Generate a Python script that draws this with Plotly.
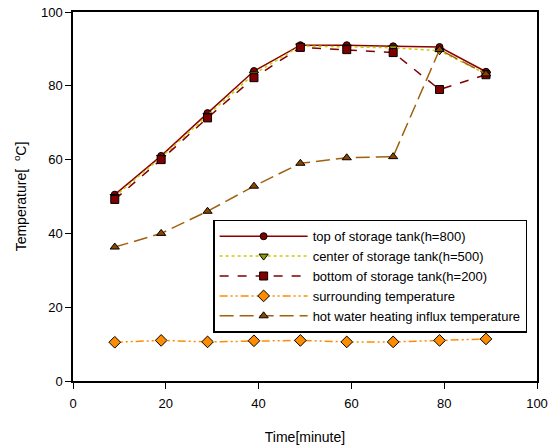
import plotly.graph_objects as go

time_min = [9, 19, 29, 39, 49, 59, 69, 79, 89]
top_tank = [50.5, 61.0, 72.6, 84.0, 91.0, 91.0, 90.7, 90.5, 83.8]
center_tank = [50.0, 60.6, 72.0, 83.2, 90.8, 90.5, 90.3, 89.5, 83.2]
bottom_tank = [49.2, 60.0, 71.3, 82.2, 90.4, 89.8, 89.0, 79.0, 83.0]
surrounding = [10.5, 11.0, 10.6, 10.9, 11.0, 10.6, 10.6, 11.0, 11.4]
hot_water = [36.3, 40.0, 46.0, 52.8, 59.0, 60.5, 60.8, 89.8, 83.2]

names = [
    "top of storage tank(h=800)",
    "center of storage tank(h=500)",
    "bottom of storage tank(h=200)",
    "surrounding temperature",
    "hot water heating influx temperature",
]

FONT = "Liberation Sans, Arial"

fig = go.Figure()
fig.add_trace(go.Scatter(x=time_min, y=top_tank, name=names[0], mode="lines+markers",
    line=dict(color="#8b0000", width=1.5, dash="solid"),
    marker=dict(symbol="circle", size=7, color="#800000", line=dict(color="black", width=1))))
fig.add_trace(go.Scatter(x=time_min, y=center_tank, name=names[1], mode="lines+markers",
    line=dict(color="#cccc00", width=1.5, dash="dot"),
    marker=dict(symbol="triangle-down", size=8, color="#999900", line=dict(color="black", width=1))))
fig.add_trace(go.Scatter(x=time_min, y=bottom_tank, name=names[2], mode="lines+markers",
    line=dict(color="#800000", width=1.5, dash="dash"),
    marker=dict(symbol="square", size=8, color="#800000", line=dict(color="black", width=1))))
fig.add_trace(go.Scatter(x=time_min, y=surrounding, name=names[3], mode="lines+markers",
    line=dict(color="#ff8c00", width=1.5, dash="8px,3px,2px,3px,2px,3px"),
    marker=dict(symbol="diamond", size=9, color="#ff8c00", line=dict(color="black", width=1))))
fig.add_trace(go.Scatter(x=time_min, y=hot_water, name=names[4], mode="lines+markers",
    line=dict(color="#a0600f", width=1.5, dash="14px,6px"),
    marker=dict(symbol="triangle-up", size=8, color="#8b4500", line=dict(color="black", width=1))))

axis_common = dict(
    showline=True, linecolor="black", linewidth=1.5, mirror=True,
    ticks="outside", ticklen=6, tickcolor="black", tickwidth=1,
    showgrid=False, zeroline=False, automargin=False,
    tickfont=dict(family=FONT, size=13, color="black"),
)

fig.update_xaxes(range=[0, 100], tickvals=[0, 20, 40, 60, 80, 100], **axis_common,
    ticklabelstandoff=4,
    title=dict(text="Time[minute]", font=dict(family=FONT, size=14, color="black"), standoff=22))
fig.update_yaxes(range=[0, 100], tickvals=[0, 20, 40, 60, 80, 100], **axis_common,
    title=dict(text="Temperature[  <sup>o</sup>C]", font=dict(family=FONT, size=14, color="black"), standoff=11))

fig.update_layout(
    width=551, height=447,
    margin=dict(l=73, r=14, t=12, b=66),
    paper_bgcolor="white", plot_bgcolor="white",
    showlegend=True,
    legend=dict(
        x=0.302, y=0.437, xanchor="left", yanchor="top",
        bgcolor="white", bordercolor="black", borderwidth=1.5,
        font=dict(family=FONT, size=13, color="black"),
        itemwidth=88, tracegroupgap=0,
    ),
)

fig.write_html("out.html", config={"displayModeBar": False},
    post_script="document.body.style.margin='0';document.body.style.overflow='hidden';")
